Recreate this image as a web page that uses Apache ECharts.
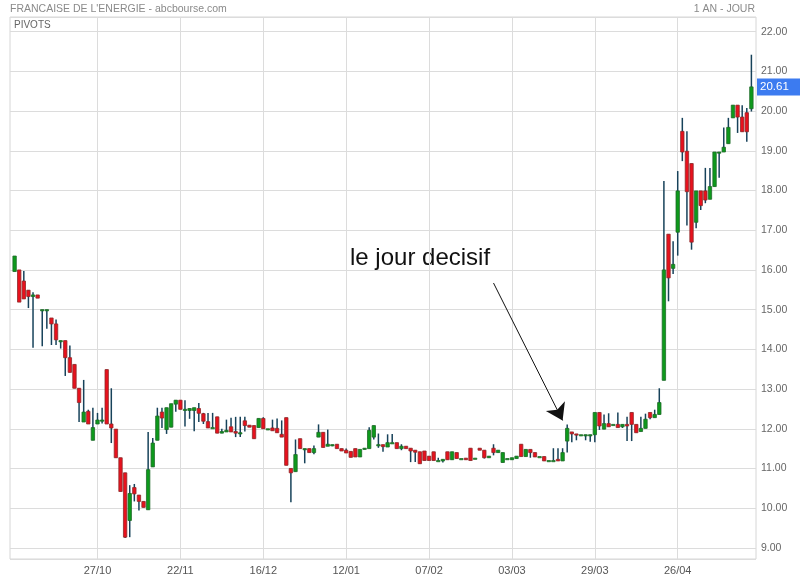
<!DOCTYPE html>
<html>
<head>
<meta charset="utf-8">
<script src="https://cdn.jsdelivr.net/npm/echarts@6/dist/echarts.min.js"></script>
<style>
html,body{margin:0;padding:0;background:#fff;}
#chart{width:800px;height:580px;}
</style>
</head>
<body>
<div id="chart"></div>
<script>
// Daily OHLC values, bar 0 .. bar 160
const openV = [15.96,16.0,15.72,15.49,15.33,15.37,15.0,15.0,14.79,14.64,
14.22,14.22,13.79,13.62,13.02,12.17,12.44,11.71,12.12,12.22,
13.49,12.12,11.99,11.27,10.89,9.69,10.52,10.33,10.17,9.96,
11.04,11.71,12.42,11.98,12.04,12.62,12.72,12.49,12.46,12.46,
12.51,12.38,12.18,12.03,12.3,11.89,11.92,12.05,11.93,11.9,
12.2,12.09,12.08,12.03,12.26,12.0,12.02,12.01,11.86,12.28,
11.0,10.92,11.75,11.5,11.5,11.4,11.79,11.91,11.56,11.6,
11.61,11.5,11.46,11.43,11.5,11.29,11.48,11.5,11.79,11.6,
11.6,11.54,11.65,11.65,11.5,11.56,11.51,11.46,11.42,11.44,
11.31,11.42,11.2,11.19,11.42,11.22,11.4,11.25,11.26,11.51,
11.26,11.51,11.46,11.27,11.51,11.4,11.15,11.25,11.22,11.25,
11.61,11.3,11.48,11.4,11.3,11.3,11.2,11.2,11.23,11.19,
11.69,11.92,11.87,11.85,11.85,11.85,11.85,12.41,11.99,12.13,
12.11,12.11,12.05,12.11,12.41,12.11,11.93,12.01,12.41,12.28,
12.36,13.22,16.9,16.04,16.95,19.49,18.99,18.68,17.2,17.99,
17.99,17.78,18.1,18.97,18.97,19.18,19.83,20.15,19.85,19.96,
20.06];
const highV = [16.35,16.0,15.97,15.49,15.44,15.37,15.0,15.0,14.79,14.75,
14.22,14.22,14.1,13.62,13.02,13.23,12.48,12.53,12.4,12.53,
13.49,13.02,11.99,11.27,10.89,10.58,10.61,10.33,10.17,11.92,
11.77,12.53,12.53,12.53,12.63,12.72,12.72,12.72,12.51,12.53,
12.65,12.4,12.4,12.4,12.3,12.0,12.23,12.28,12.3,12.3,
12.3,12.09,12.08,12.26,12.29,12.0,12.23,12.26,12.21,12.28,
11.0,11.73,11.75,11.5,11.5,11.58,12.11,11.91,11.98,11.6,
11.61,11.5,11.5,11.43,11.5,11.48,11.51,12.04,12.08,11.88,
11.6,11.86,11.87,11.65,11.61,11.56,11.51,11.46,11.42,11.44,
11.31,11.42,11.27,11.23,11.42,11.42,11.4,11.25,11.26,11.51,
11.26,11.51,11.46,11.31,11.61,11.46,11.4,11.25,11.27,11.31,
11.61,11.48,11.48,11.4,11.3,11.3,11.2,11.51,11.51,11.51,
12.11,11.92,11.87,11.85,11.85,11.85,12.41,12.41,12.36,12.39,
12.11,12.41,12.11,12.3,12.41,12.11,12.3,12.38,12.41,12.48,
13.02,18.24,16.9,16.72,18.49,19.83,19.49,18.68,17.99,17.99,
18.57,18.57,18.97,18.97,19.59,19.83,20.15,20.15,20.15,20.08,
21.42];
const lowV = [15.96,15.19,15.27,15.04,14.04,15.29,14.08,14.52,14.11,14.11,
14.02,13.33,13.42,13.02,12.17,12.17,12.12,11.71,12.12,12.13,
12.12,11.64,11.27,10.42,9.25,9.27,10.17,9.94,10.02,9.96,
11.04,11.71,12.02,11.87,12.04,12.43,12.49,12.06,12.25,11.94,
12.17,12.12,12.02,12.03,11.89,11.89,11.92,11.92,11.79,11.79,
11.93,12.04,11.75,12.03,12.0,12.0,11.95,11.9,11.79,11.08,
10.15,10.92,11.5,11.13,11.4,11.36,11.79,11.53,11.56,11.56,
11.5,11.44,11.39,11.28,11.29,11.29,11.48,11.5,11.73,11.52,
11.42,11.54,11.65,11.5,11.46,11.5,11.16,11.16,11.12,11.2,
11.2,11.2,11.2,11.15,11.22,11.22,11.25,11.25,11.22,11.2,
11.26,11.46,11.25,11.27,11.33,11.4,11.15,11.25,11.22,11.25,
11.3,11.3,11.27,11.29,11.3,11.19,11.2,11.2,11.19,11.19,
11.4,11.66,11.71,11.85,11.71,11.67,11.66,11.97,11.99,12.05,
12.11,12.03,12.02,11.69,11.69,11.9,11.93,12.01,12.24,12.28,
12.36,13.22,15.21,15.9,16.36,18.74,17.12,16.51,17.05,17.51,
17.68,17.78,18.1,18.32,18.97,19.18,19.83,19.45,19.48,19.23,
19.99];
const closeV = [16.35,15.19,15.27,15.33,15.37,15.29,15.0,15.0,14.64,14.24,
14.22,13.79,13.42,13.02,12.66,12.42,12.12,12.03,12.22,12.22,
12.12,12.02,11.27,10.42,9.27,10.37,10.36,10.17,10.02,10.97,
11.64,12.32,12.27,12.53,12.63,12.72,12.49,12.49,12.51,12.53,
12.39,12.19,12.02,12.03,11.89,11.93,11.96,11.92,11.89,11.9,
12.08,12.04,11.75,12.26,12.0,12.0,11.95,11.9,11.79,11.08,
10.89,11.35,11.5,11.5,11.4,11.5,11.91,11.53,11.61,11.6,
11.5,11.44,11.39,11.28,11.29,11.48,11.51,11.96,12.08,11.6,
11.55,11.65,11.65,11.5,11.56,11.5,11.44,11.41,11.12,11.2,
11.2,11.2,11.2,11.23,11.22,11.42,11.25,11.25,11.22,11.2,
11.26,11.46,11.27,11.31,11.4,11.46,11.4,11.25,11.27,11.31,
11.3,11.48,11.4,11.29,11.3,11.19,11.2,11.2,11.19,11.4,
12.01,11.87,11.84,11.85,11.85,11.85,12.41,12.07,12.13,12.05,
12.11,12.03,12.11,12.07,12.11,11.9,12.01,12.24,12.28,12.36,
12.66,16.0,15.8,16.14,17.99,18.97,17.97,16.7,17.99,17.62,
17.76,18.1,18.97,18.97,19.09,19.59,20.15,19.85,19.48,19.48,
20.61];

// x-axis tick labels (bar index -> date text)
const tickBars = [18, 36, 54, 72, 90, 108, 126, 144];
const tickLabels = ['27/10', '22/11', '16/12', '12/01', '07/02', '03/03', '29/03', '26/04'];

const lastPrice = 20.61;
const titleText = "FRANCAISE DE L'ENERGIE - abcbourse.com";
const periodText = '1 AN - JOUR';
const panelText = 'PIVOTS';
const noteText = 'le jour decisif';
// annotation arrow (bar index, price)
const arrowFrom = [103.7, 15.67];
const arrowTo = [118.9, 12.21];

// categories: one slot of padding before the first bar and after the last
const nCat = openV.length + 2;
const cats = [];
for (let k = 0; k < nCat; k++) cats.push(String(k));
const labelAt = {};
tickBars.forEach((b, j) => { labelAt[b + 1] = tickLabels[j]; });

const data = openV.map((o, i) => [i + 1, o, closeV[i], lowV[i], highV[i]]);

const FONT = "'Liberation Sans', Arial, sans-serif";
const GREEN = '#0d9a1b', GREEN_B = '#1e6a28';
const RED = '#e8111d', RED_B = '#8e2a2a';
const WICK = '#17425a';

const chart = echarts.init(document.getElementById('chart'), null, {renderer: 'canvas'});
const tickFn = (index) => labelAt[index] !== undefined;

chart.setOption({
  animation: false,
  backgroundColor: '#fff',
  textStyle: {fontFamily: FONT},
  grid: {left: 10, right: 44, top: 17, bottom: 21, show: true, borderColor: '#d6d6d6', borderWidth: 1},
  graphic: [
    {type: 'text', left: 10, top: 4, style: {text: titleText, fill: '#8a8a8a', font: '10.5px ' + FONT}},
    {type: 'text', right: 45, top: 4, style: {text: periodText, fill: '#8a8a8a', font: '10.5px ' + FONT}},
    {type: 'text', left: 14, top: 20, style: {text: panelText, fill: '#666', font: '10px ' + FONT}},
    {type: 'text', left: 350, top: 246, style: {text: noteText, fill: '#111', font: '24px ' + FONT}}
  ],
  xAxis: {
    type: 'category', data: cats, boundaryGap: false,
    axisLine: {show: false}, axisTick: {show: false},
    axisLabel: {interval: tickFn, formatter: (v, idx) => labelAt[Number(v)] || '', color: '#555', fontSize: 11, margin: 6, fontFamily: FONT},
    splitLine: {show: true, interval: tickFn, lineStyle: {color: '#dcdcdc', width: 1}}
  },
  yAxis: {
    type: 'value', position: 'right', min: 8.72, max: 22.37, splitNumber: 14,
    minInterval: 1, maxInterval: 1, scale: true,
    axisLine: {show: false}, axisTick: {show: false},
    axisLabel: {showMinLabel: false, showMaxLabel: false, formatter: v => v.toFixed(2), color: '#666', fontSize: 10.5, margin: 5, fontFamily: FONT},
    splitLine: {lineStyle: {color: '#dcdcdc', width: 1}}
  },
  series: [{
    type: 'custom',
    data: data,
    encode: {x: 0, y: [1, 2, 3, 4]},
    clip: false,
    renderItem: function (params, api) {
      const x = api.value(0);
      const o = api.value(1), c = api.value(2), l = api.value(3), h = api.value(4);
      const pO = api.coord([x, o]), pC = api.coord([x, c]);
      const pL = api.coord([x, l]), pH = api.coord([x, h]);
      const up = c >= o;
      const top = Math.min(pO[1], pC[1]);
      const bh = Math.max(Math.abs(pO[1] - pC[1]), 1.2);
      const w = 3.4;
      return {type: 'group', children: [
        {type: 'line', shape: {x1: pL[0], y1: pL[1], x2: pH[0], y2: pH[1]}, style: {stroke: WICK, lineWidth: 1.5}},
        {type: 'rect', shape: {x: pO[0] - w / 2, y: top, width: w, height: bh},
          style: {fill: up ? GREEN : RED, stroke: up ? GREEN_B : RED_B, lineWidth: 0.8}}
      ]};
    },
    markLine: {
      silent: true,
      animation: false,
      data: [
        [{coord: [arrowFrom[0] + 1, arrowFrom[1]], symbol: 'none'},
         {coord: [arrowTo[0] + 1, arrowTo[1]], symbol: 'arrow', symbolSize: 16}],
        {yAxis: lastPrice, symbol: 'none', lineStyle: {color: 'rgba(0,0,0,0)', width: 0},
         label: {show: true, position: 'end', distance: 1, formatter: lastPrice.toFixed(2),
           color: '#fff', backgroundColor: '#3c7bf0', padding: [3, 14, 2, 3], fontSize: 11.5, fontFamily: FONT}}
      ],
      lineStyle: {color: '#111', width: 1, type: 'solid'},
      label: {show: false}
    }
  }]
});
</script>
</body>
</html>
